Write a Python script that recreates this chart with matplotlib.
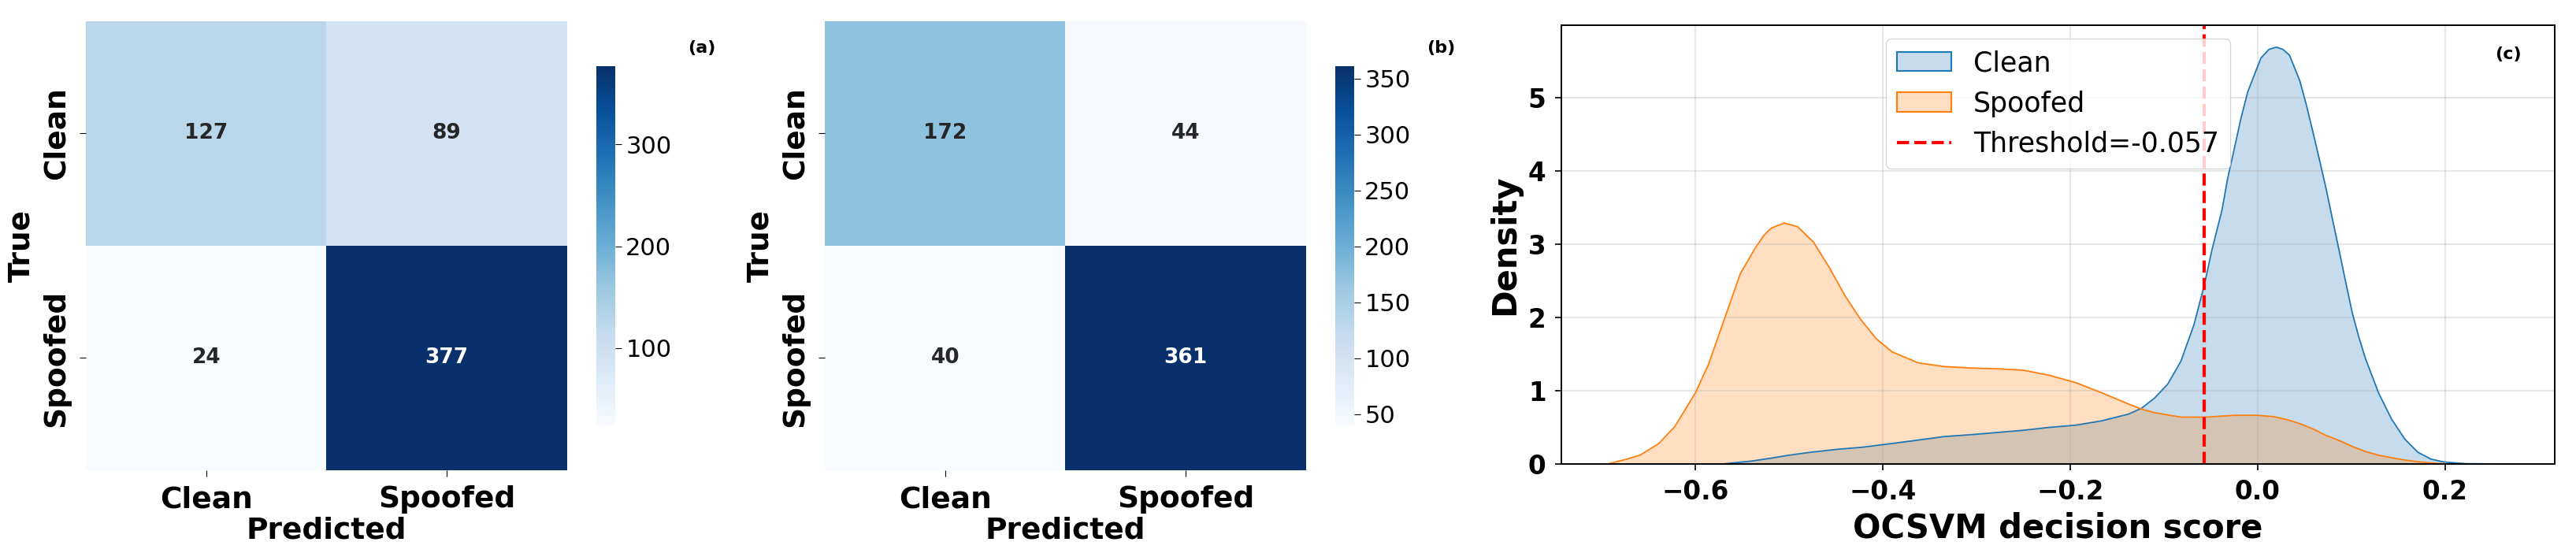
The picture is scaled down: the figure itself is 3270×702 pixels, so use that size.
import numpy as np
import matplotlib
matplotlib.use('Agg')
import matplotlib.pyplot as plt
import seaborn as sns
from matplotlib.patches import Patch
from matplotlib.lines import Line2D

classes = ['Clean', 'Spoofed']

# confusion matrices (rows = true, cols = predicted)
cm_a = np.array([[127, 89],
                 [24, 377]])
cm_b = np.array([[172, 44],
                 [40, 361]])
cbar_ticks_a = [100, 200, 300]
cbar_ticks_b = [50, 100, 150, 200, 250, 300, 350]

# KDE curves
clean_x = [-0.571, -0.54, -0.519, -0.50, -0.477, -0.449, -0.421, -0.39, -0.36, -0.334,
           -0.306, -0.278, -0.25, -0.222, -0.194, -0.166, -0.138, -0.124, -0.110, -0.096,
           -0.082, -0.068, -0.057, -0.049, -0.038, -0.032, -0.025, -0.018, -0.0106, 0.0034,
           0.012, 0.020, 0.027, 0.034, 0.045, 0.052, 0.059, 0.066, 0.073, 0.080,
           0.087, 0.094, 0.101, 0.108, 0.115, 0.129, 0.143, 0.157, 0.171, 0.185,
           0.199, 0.222, 0.268]
clean_y = [0.0, 0.04, 0.08, 0.12, 0.16, 0.20, 0.23, 0.28, 0.33, 0.375,
           0.40, 0.43, 0.46, 0.50, 0.53, 0.59, 0.68, 0.76, 0.90, 1.09,
           1.40, 1.90, 2.44, 2.91, 3.47, 3.90, 4.30, 4.71, 5.08, 5.54,
           5.66, 5.69, 5.66, 5.58, 5.23, 4.90, 4.53, 4.15, 3.76, 3.33,
           2.91, 2.48, 2.06, 1.73, 1.44, 0.97, 0.61, 0.34, 0.16, 0.066,
           0.027, 0.004, 0.0]

spoof_x = [-0.694, -0.675, -0.659, -0.639, -0.622, -0.60, -0.586, -0.569, -0.552, -0.536,
           -0.527, -0.519, -0.505, -0.491, -0.474, -0.457, -0.440, -0.424, -0.407, -0.390,
           -0.362, -0.334, -0.306, -0.278, -0.250, -0.222, -0.194, -0.166, -0.138, -0.124,
           -0.110, -0.082, -0.054, -0.025, 0.0, 0.017, 0.031, 0.045, 0.059, 0.073,
           0.087, 0.101, 0.115, 0.129, 0.143, 0.157, 0.171, 0.191, 0.205]
spoof_y = [0.0, 0.06, 0.12, 0.28, 0.51, 0.97, 1.36, 1.98, 2.60, 2.95,
           3.12, 3.22, 3.29, 3.24, 3.03, 2.68, 2.29, 1.98, 1.71, 1.53,
           1.38, 1.33, 1.31, 1.30, 1.28, 1.21, 1.11, 0.97, 0.82, 0.75,
           0.70, 0.64, 0.64, 0.665, 0.665, 0.646, 0.607, 0.55, 0.48, 0.39,
           0.32, 0.24, 0.17, 0.12, 0.085, 0.054, 0.031, 0.008, 0.0]

threshold = -0.057

fig = plt.figure(figsize=(32.7, 7.02), dpi=100)

def draw_cm(pos, cpos, cm, ticks, tag):
    ax = fig.add_axes(pos)
    cax = fig.add_axes(cpos)
    sns.heatmap(cm, annot=True, fmt='d', cmap='Blues', ax=ax, cbar_ax=cax,
                xticklabels=classes, yticklabels=classes,
                annot_kws={'size': 19, 'weight': 'bold'})
    ax.set_xticklabels(classes, fontsize=27, fontweight='bold')
    ax.set_yticklabels(classes, fontsize=27, fontweight='bold', rotation=90, va='center')
    ax.tick_params(axis='both', length=6, pad=8)
    ax.set_xlabel('Predicted', fontsize=27, fontweight='bold', labelpad=2)
    ax.set_ylabel('True', fontsize=27, fontweight='bold', labelpad=6)
    cax.set_yticks(ticks)
    cax.tick_params(labelsize=22, length=6)
    ax.text(1.28, 0.94, tag, transform=ax.transAxes, fontsize=16,
            fontweight='bold', ha='center', va='center')

draw_cm([0.03333, 0.1496, 0.18685, 0.8120], [0.2315, 0.2308, 0.00734, 0.6496],
        cm_a, cbar_ticks_a, '(a)')
draw_cm([0.32018, 0.1496, 0.18685, 0.8120], [0.51835, 0.2308, 0.00734, 0.6496],
        cm_b, cbar_ticks_b, '(b)')

# (c) KDE of decision scores
ax = fig.add_axes([0.60612, 0.16097, 0.38563, 0.79345])
blue = '#1f77b4'
orange = '#ff7f0e'
ax.fill_between(clean_x, clean_y, color=blue, alpha=0.25, lw=0)
ax.plot(clean_x, clean_y, color=blue, lw=1.3)
ax.fill_between(spoof_x, spoof_y, color=orange, alpha=0.25, lw=0)
ax.plot(spoof_x, spoof_y, color=orange, lw=1.3)
ax.axvline(threshold, color='red', ls='--', lw=3)

ax.set_xlim(-0.743, 0.317)
ax.set_ylim(0, 5.99)
ax.set_xticks([-0.6, -0.4, -0.2, 0.0, 0.2])
ax.set_yticks([0, 1, 2, 3, 4, 5])
ax.tick_params(labelsize=23.5, length=6, width=1.2, pad=8)
for lbl in ax.get_xticklabels() + ax.get_yticklabels():
    lbl.set_fontweight('bold')
for sp in ax.spines.values():
    sp.set_linewidth(1.4)
ax.grid(True, alpha=0.3, lw=1.5)
ax.set_xlabel('OCSVM decision score', fontsize=30, fontweight='bold', labelpad=6)
ax.set_ylabel('Density', fontsize=30, fontweight='bold', labelpad=6)

handles = [Patch(facecolor=(0.122, 0.467, 0.706, 0.25), edgecolor=blue, lw=1.5, label='Clean'),
           Patch(facecolor=(1.0, 0.498, 0.055, 0.25), edgecolor=orange, lw=1.5, label='Spoofed'),
           Line2D([0], [0], color='red', ls='--', lw=3, label=f'Threshold={threshold}')]
ax.legend(handles=handles, loc='upper center', fontsize=25)
ax.text(0.953, 0.934, '(c)', transform=ax.transAxes, fontsize=16,
        fontweight='bold', ha='center', va='center')

fig.savefig('out.png', dpi=100)
